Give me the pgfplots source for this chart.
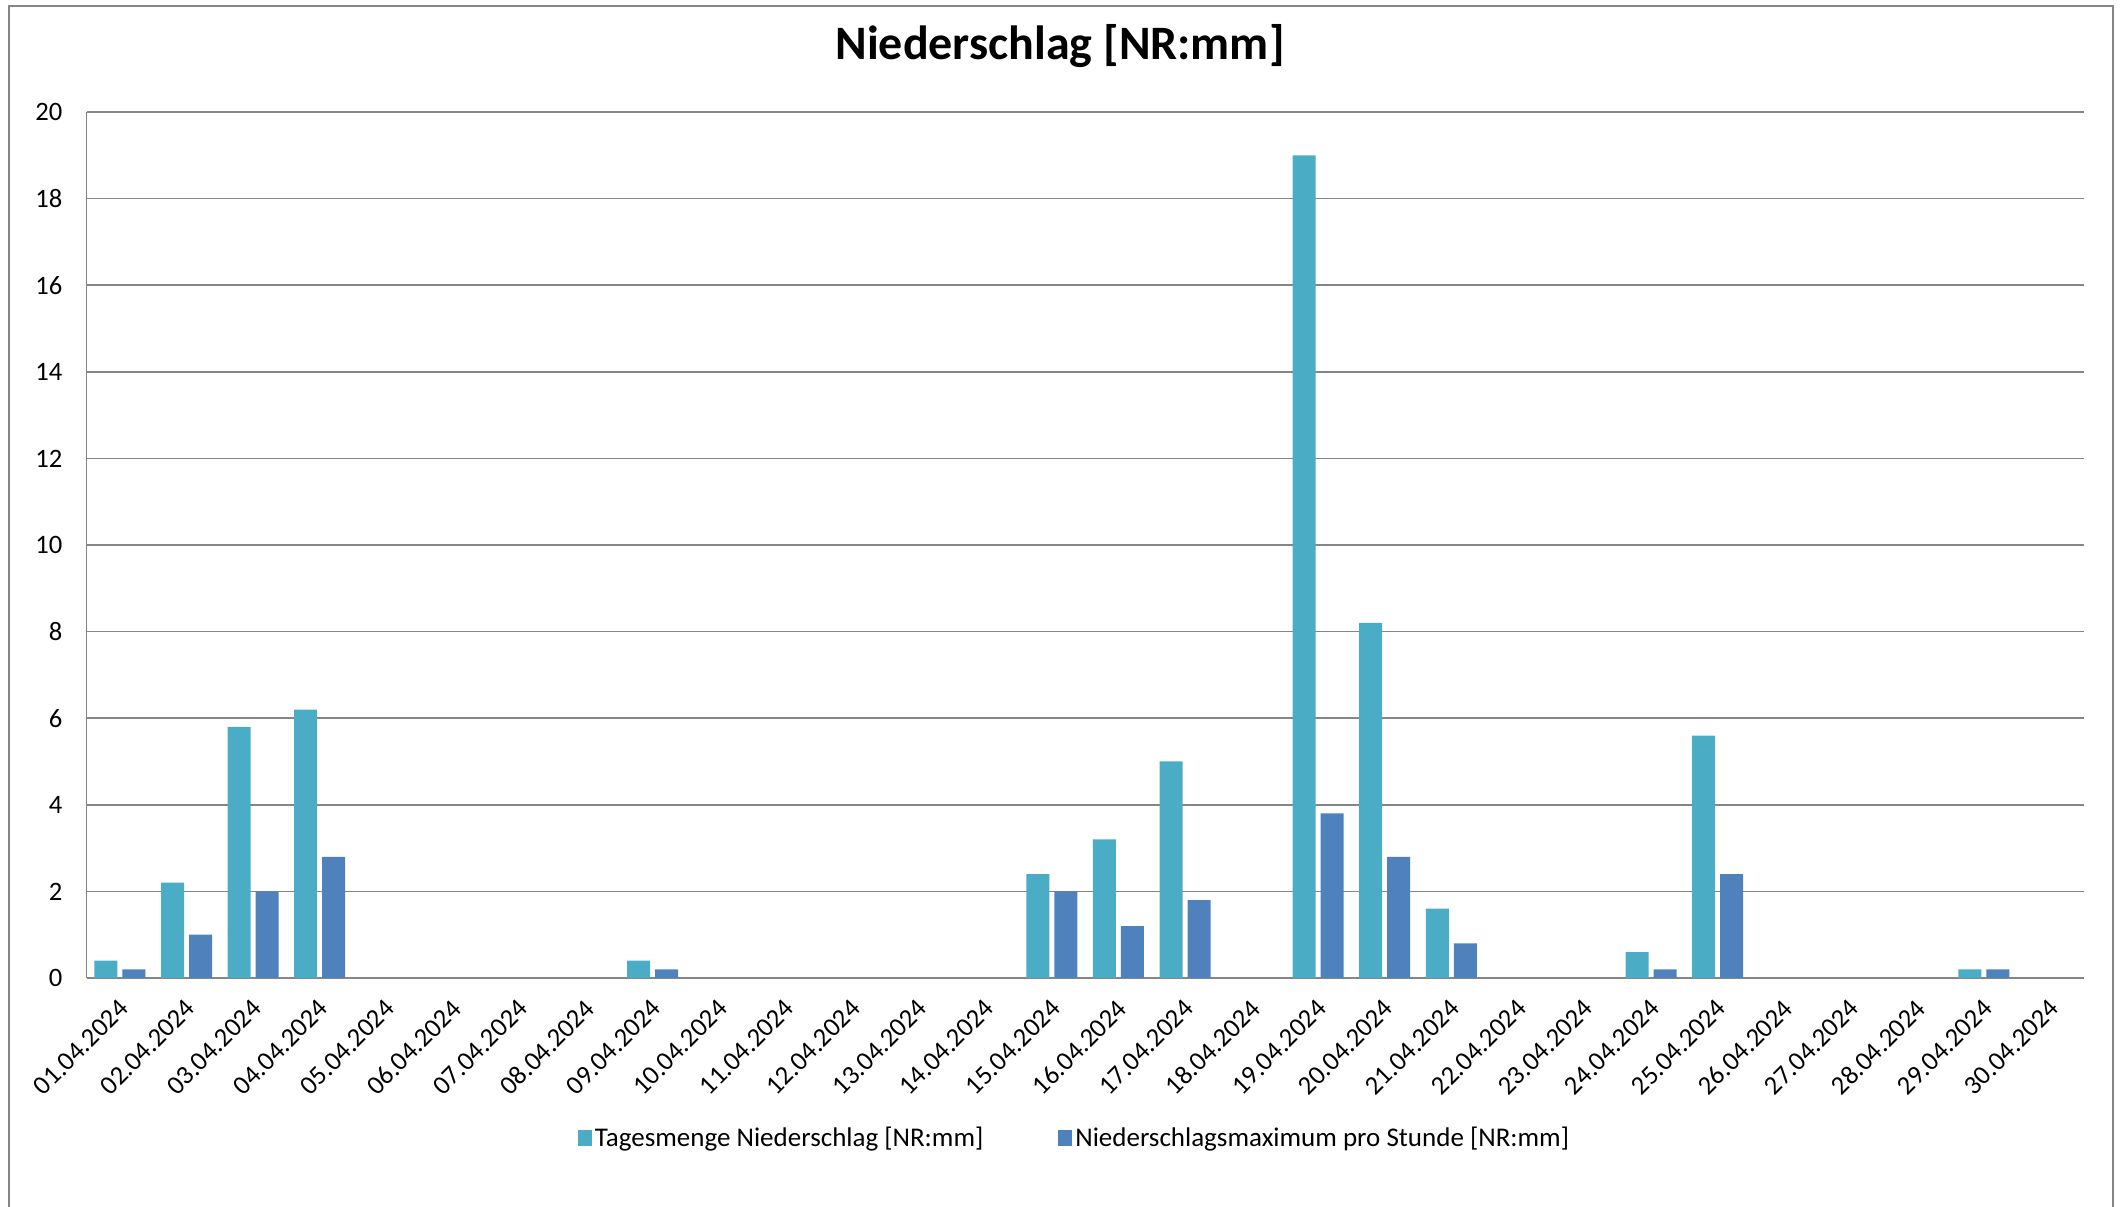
\documentclass[border=0pt]{standalone}
\usepackage{fontspec}
\setmainfont{Carlito}
\usepackage{pgfplots}
\usepackage{pgfplotstable}
\pgfplotsset{compat=1.18}
\definecolor{cA}{HTML}{4BACC6}
\definecolor{cB}{HTML}{4F81BD}
\definecolor{gridc}{HTML}{868686}

\pgfplotstableread{
x a b
1 0.4 0.2
2 2.2 1.0
3 5.8 2.0
4 6.2 2.8
5 0 0
6 0 0
7 0 0
8 0 0
9 0.4 0.2
10 0 0
11 0 0
12 0 0
13 0 0
14 0 0
15 2.4 2.0
16 3.2 1.2
17 5.0 1.8
18 0 0
19 19.0 3.8
20 8.2 2.8
21 1.6 0.8
22 0 0
23 0 0
24 0.6 0.2
25 5.6 2.4
26 0 0
27 0 0
28 0 0
29 0.2 0.2
30 0 0
}\data

\begin{document}
\begin{tikzpicture}
\useasboundingbox (0,0) rectangle (1060bp,603.5bp);
\draw[gridc, line width=1bp] (4.5bp,-5bp) -- (4.5bp,600.5bp) -- (1056.5bp,600.5bp) -- (1056.5bp,-5bp);
\begin{axis}[
  at={(43.35bp,114.5bp)}, anchor=south west,
  scale only axis, width=998.5bp, height=433bp,
  ybar=2.5bp, bar width=11.5bp,
  xmin=0.5, xmax=30.5, ymin=0, ymax=20,
  xtick={1,...,30},
  xticklabels={01.04.2024,02.04.2024,03.04.2024,04.04.2024,05.04.2024,06.04.2024,07.04.2024,08.04.2024,09.04.2024,10.04.2024,11.04.2024,12.04.2024,13.04.2024,14.04.2024,15.04.2024,16.04.2024,17.04.2024,18.04.2024,19.04.2024,20.04.2024,21.04.2024,22.04.2024,23.04.2024,24.04.2024,25.04.2024,26.04.2024,27.04.2024,28.04.2024,29.04.2024,30.04.2024},
  ytick={0,2,...,20},
  major tick length=0pt,
  ymajorgrids, grid style={gridc, line width=0.75bp},
  axis x line*=bottom, axis y line*=left,
  axis line style={gridc, line width=0.75bp, -},
  tick label style={font=\fontsize{13.3bp}{15bp}\selectfont, text=black},
  /pgf/number format/assume math mode=true,
  yticklabel style={anchor=east, inner sep=0pt, xshift=-12bp},
  xticklabel style={xshift=2bp, yshift=-13bp, rotate=45, anchor=east, inner sep=0pt},
  title={Niederschlag [NR:mm]},
  title style={at={(0.4874,1.0624)}, anchor=center, font=\fontsize{24bp}{28bp}\selectfont\bfseries},
  legend style={at={(0.4949,-0.1848)}, anchor=center, draw=none, fill=none,
    font=\fontsize{13.5bp}{15bp}\selectfont, legend columns=2,
    nodes={inner xsep=1.5bp},
    /tikz/every even column/.append style={column sep=36bp}},
]
\addplot[fill=cA, draw=none, legend image code/.code={\fill[cA] (0bp,-4bp) rectangle (7bp,4bp);}] table[x=x, y=a] {\data};
\addlegendentry{Tagesmenge Niederschlag [NR:mm]}
\addplot[fill=cB, draw=none, legend image code/.code={\fill[cB] (0bp,-4bp) rectangle (7bp,4bp);}] table[x=x, y=b] {\data};
\addlegendentry{Niederschlagsmaximum pro Stunde [NR:mm]}
\end{axis}
\end{tikzpicture}
\end{document}
